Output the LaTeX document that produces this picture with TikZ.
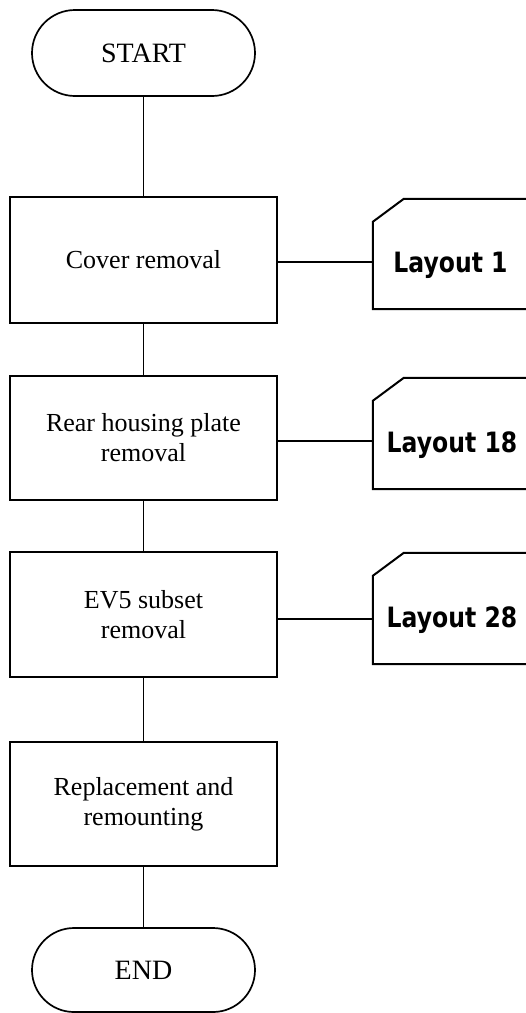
\documentclass[tikz,border=0pt]{standalone}
\usepackage{fontspec}
\setmainfont{Liberation Serif}
\newfontfamily\layoutfont[FakeStretch=0.84]{DejaVu Sans}
\usetikzlibrary{shapes.misc}
\begin{document}
\begin{tikzpicture}[x=1pt,y=-1pt,
  stepbox/.style={draw,line width=2pt,rectangle,minimum width=267pt,minimum height=125pt,align=center,inner sep=0pt,font=\fontsize{26}{30}\selectfont},
  term/.style={draw,line width=1.7pt,rounded rectangle,minimum width=223pt,minimum height=86pt,inner sep=0pt,font=\fontsize{28}{32}\selectfont},
  laybox/.style={rectangle,minimum width=190pt,minimum height=111pt,inner sep=0pt,draw=none},
  laytext/.style={font=\layoutfont\bfseries\fontsize{28}{32}\selectfont,anchor=base,inner sep=0pt},
  conn/.style={line width=1.7pt}]
\useasboundingbox (0,0) rectangle (526,1013);
% terminals
\node[term] (start) at (143.5,53) {START};
\node[term,minimum height=84pt] (end) at (143.5,970) {END};
% process boxes
\node[stepbox,minimum height=126pt] (b1) at (143.5,260) {Cover removal};
\node[stepbox,minimum height=124pt] (b2) at (143.5,438) {Rear housing plate\\removal};
\node[stepbox] (b3) at (143.5,614.5) {EV5 subset\\removal};
\node[stepbox,minimum height=124pt] (b4) at (143.5,804) {Replacement and\\remounting};
% layout cards
\node[laybox,minimum height=110pt] (l1) at (468,254) {};
\node[laybox] (l2) at (468,433.5) {};
\node[laybox] (l3) at (468,608.5) {};
\foreach \n in {l1,l2,l3}{
  \draw[line width=2pt,line join=miter]
    (\n.south east) -- (\n.south west) -- ([yshift=-23pt]\n.north west)
    -- ([xshift=31pt]\n.north west) -- (\n.north east);
}
\node[laytext] (t1) at (450.5,272) {Layout 1};
\node[laytext] (t2) at (452,452) {Layout 18};
\node[laytext] (t3) at (452,627) {Layout 28};
% connectors
\draw[conn] (start.south) -- (b1.north);
\draw[conn] (b1.south) -- (b2.north);
\draw[conn] (b2.south) -- (b3.north);
\draw[conn] (b3.south) -- (b4.north);
\draw[conn] (b4.south) -- (end.north);
\draw[conn] ([yshift=-2pt]b1.east) -- ([yshift=-2pt]b1.east -| l1.west);
\draw[conn] ([yshift=-3pt]b2.east) -- ([yshift=-3pt]b2.east -| l2.west);
\draw[conn] ([yshift=-4.5pt]b3.east) -- ([yshift=-4.5pt]b3.east -| l3.west);
\end{tikzpicture}
\end{document}
